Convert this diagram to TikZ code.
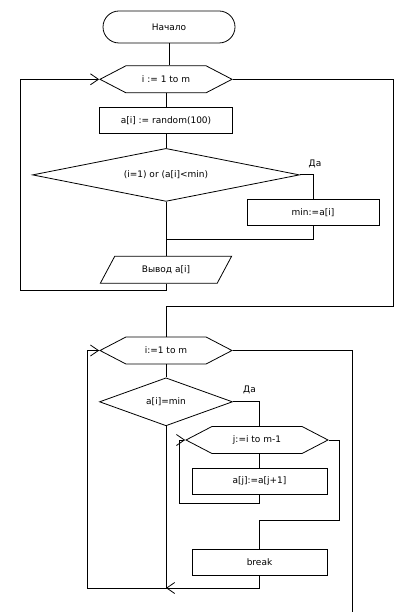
\documentclass[tikz,border=0pt]{standalone}
\usepackage{fontspec}
\setmainfont{DejaVu Sans}
\usetikzlibrary{positioning,shapes.geometric,shapes.symbols,arrows.meta}

\begin{document}
\begin{tikzpicture}[x=1pt, y=-1pt, line width=0.8pt, font=\fontsize{9}{11}\selectfont,
  >={Straight Barb[length=8pt,width=11pt]},
  term/.style={draw, rectangle, rounded corners=16pt, minimum width=132pt, minimum height=32pt, inner sep=0pt},
  box/.style={draw, rectangle, minimum width=133pt, minimum height=26pt, inner sep=0pt},
  loopbox/.style={draw, signal, signal to=east and west, signal pointer angle=55, minimum width=132pt, minimum height=27pt, inner sep=0pt},
  cond/.style={draw, diamond, inner sep=0pt},
  io/.style={draw, trapezium, trapezium left angle=50, trapezium right angle=130, trapezium stretches=true, minimum width=132pt, minimum height=27pt, inner sep=0pt},
  yes/.style={anchor=south, inner sep=0pt, yshift=7pt}]
  \useasboundingbox (0,0) rectangle (413,612);
  % Nodes
  \node[term] (start) at (169,27) {Начало};
  \node[loopbox, below=22pt of start, xshift=-3pt] (loop1) {i := 1 to m};
  \node[box, below=14pt of loop1] (rnd) {a[i] := random(100)};
  \node[cond, aspect=5, minimum width=267pt, minimum height=53pt, below=14pt of rnd] (cond1) {(i=1) or (a[i]<min)};
  \node[box, minimum width=132pt, anchor=north] (setmin) at (313,199) {min:=a[i]};
  \node[io, below=54pt of cond1] (out) {Вывод a[i]};
  \node[loopbox, below=53pt of out] (loop2) {i:=1 to m};
  \node[cond, aspect=2.8, minimum width=133pt, minimum height=48pt, below=13pt of loop2] (cond2) {a[i]=min};
  \node[loopbox, minimum width=142pt] (loop3) at (257,440) {j:=i to m-1};
  \node[box, minimum width=135pt, below=14pt of loop3, xshift=2.5pt] (shift) {a[j]:=a[j+1]};
  \node[box, minimum width=135pt, below=54pt of shift] (brk) {break};
  % Bends
  \coordinate (back1) at (20,290);
  \coordinate (exit1) at (393,306);
  \coordinate (back2) at (87,588);
  \coordinate (exit2) at (352,612);
  \coordinate (back3) at (179,503);
  \coordinate (exit3) at (339,520);
  % Connections
  \draw (start.south) -- (start.south |- loop1.north);
  \draw (loop1.south) -- (rnd.north);
  \draw (rnd.south) -- (cond1.north);
  \draw (cond1.east) -| node[yes, pos=0.5, xshift=2pt] {Да} (setmin.north);
  \draw (cond1.south) -- (out.north);
  \draw (setmin.south) -- ++(0,14) -| (out.north);
  \draw[->] (out.south) |- (back1) |- (loop1.west);
  \draw (loop1.east) -| (exit1) -| (loop2.north);
  \draw (loop2.south) -- (cond2.north);
  \draw (cond2.east) -| node[yes, pos=0.5, xshift=-10pt] {Да} (shift.north |- loop3.north);
  \draw (shift.north |- loop3.south) -- (shift.north);
  \draw[->] (shift.south) |- (back3) |- (loop3.west);
  \draw (loop3.east) -| (exit3) -| (brk.north);
  \draw[->] (brk.south) |- (cond2.south |- back2);
  \draw[->] (cond2.south) |- (back2) |- (loop2.west);
  \draw (loop2.east) -| (exit2);
\end{tikzpicture}
\end{document}
